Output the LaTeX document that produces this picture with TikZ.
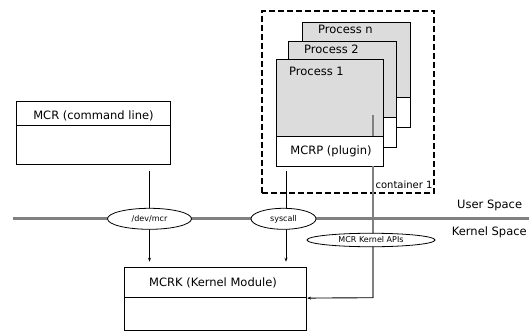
\documentclass[tikz,border=0pt]{standalone}
\usepackage{fontspec}
\setmainfont{DejaVu Sans}
\usetikzlibrary{shapes.geometric,arrows.meta}
\definecolor{procgray}{HTML}{DCDCDC}
\definecolor{linegray}{HTML}{808080}
\tikzset{
  box/.style={shape=rectangle,draw=black,line width=0.8pt,inner sep=0pt},
  procbox/.style={box,fill=procgray},
  plugbox/.style={box,fill=white},
  iface/.style={shape=ellipse,draw=black,fill=white,line width=0.8pt,inner sep=0pt,font=\fontsize{8}{9}\selectfont},
  txt/.style={inner sep=0pt,font=\fontsize{11.5}{13}\selectfont},
  call/.style={draw=black,line width=0.7pt},
  api/.style={draw=linegray,line width=1.2pt},
  tip/.style={-{Stealth[length=4pt,width=3pt]}}
}
\begin{document}
\begin{tikzpicture}[x=1pt,y=-1pt]
\useasboundingbox (0,0) rectangle (529,331);
% user / kernel boundary
\draw[linegray,line width=2.8pt] (12.7,218.5) -- (529,218.5);
\node[txt,anchor=base west] (user) at (457,208.3) {User Space};
\node[txt,anchor=base west] (kernel) at (451.7,235.7) {Kernel Space};
% container
\node[shape=rectangle,draw=black,dash pattern=on 6pt off 3pt,line width=1.4pt,minimum width=172,minimum height=182] (cont) at (348,102) {};
\node[inner sep=0pt,anchor=base east,font=\fontsize{10}{11}\selectfont] (contlbl) at (432.7,188.8) {container 1};
% processes
\node[procbox,minimum width=108,minimum height=75] (pn) at (356,59.5) {};
\node[plugbox,minimum width=108,minimum height=30] (pnplug) at (356,112) {};
\node[txt,anchor=base west] (pnlbl) at (318,33.5) {Process n};
\node[procbox,minimum width=108,minimum height=76] (p2) at (342,79) {};
\node[plugbox,minimum width=108,minimum height=30] (p2plug) at (342,132) {};
\node[txt,anchor=base west] (p2lbl) at (304,54) {Process 2};
\node[procbox,minimum width=107,minimum height=77] (p1) at (329.5,97.5) {};
\node[plugbox,minimum width=107,minimum height=30] (mcrp) at (329.5,151) {};
\node[txt,anchor=base west] (p1lbl) at (289,76) {Process 1};
\node[txt,anchor=base] (mcrplbl) at (331,154.3) {MCRP (plugin)};
% command line tool
\node[box,minimum width=154.7,minimum height=23.3] (mcr) at (93.35,113.35) {};
\node[box,minimum width=154.7,minimum height=39] (mcrbody) at (93.35,144.5) {};
\node[txt,anchor=base] (mcrlbl) at (93.5,119.3) {MCR (command line)};
% kernel module
\node[box,minimum width=182.7,minimum height=30] (mcrk) at (215.35,282.7) {};
\node[box,minimum width=182.7,minimum height=32.3] (mcrkbody) at (215.35,313.85) {};
\node[txt,anchor=base] (mcrklbl) at (213,286.7) {MCRK (Kernel Module)};
% interfaces
\coordinate (devin) at (149.5,171);
\coordinate (devout) at (149.5,261.7);
\coordinate (sysin) at (286,171);
\coordinate (sysout) at (286,261.7);
\coordinate (apistub) at (373,115);
\coordinate (apicorner) at (373,297.7);
\path[call,tip] (devin) -- (devout);
\path[call,tip] (sysin) -- (sysout);
\path[api] (apistub) -- (apistub |- mcrp.north);
\path[api] (mcrp.south -| apistub) -- (apicorner);
\path[call,line width=0.9pt,tip] (apicorner) -- (mcrk.south east);
\node[iface,minimum width=84,minimum height=21] (devmcr) at (149.5,218.8) {/dev/mcr};
\node[iface,minimum width=65,minimum height=21] (syscall) at (283.5,218.8) {syscall};
\node[iface,minimum width=128,minimum height=13.5] (kapi) at (371,240) {MCR Kernel APIs};
\end{tikzpicture}
\end{document}
